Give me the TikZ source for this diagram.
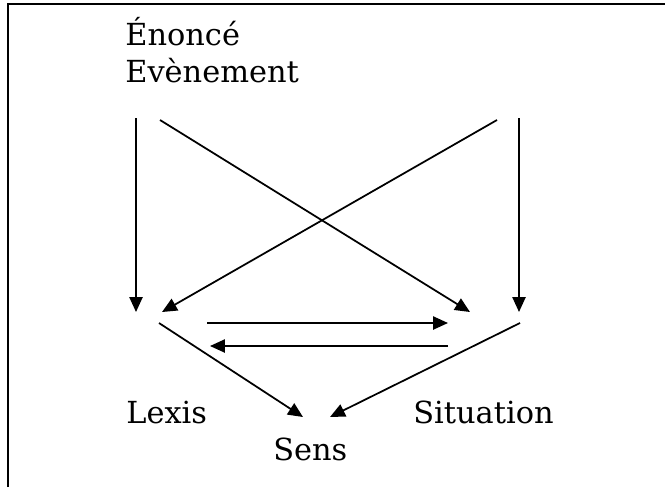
\documentclass[tikz,border=0pt]{standalone}
\usepackage{fontspec}
\setmainfont{DejaVu Serif}
\usetikzlibrary{arrows.meta}

\tikzset{
  lbl/.style={anchor=base west, inner sep=0pt, font=\fontsize{17.3}{20}\selectfont},
  arr/.style={-{Triangle[length=8.5pt, width=7.5pt]}, line width=1pt}
}

\begin{document}
\begin{tikzpicture}[x=0.02cm, y=-0.02cm]
  \useasboundingbox (0,0) rectangle (665,487);

  % Frame (only left and top edges show)
  \draw[line width=1.1pt] (8,487) -- (8,4) -- (665,4);

  % Labels
  \node[lbl] (enonce) at (125,45) {Énoncé};
  \node[lbl] (evenement) at (125,82) {Evènement};
  \node[lbl] (lexis) at (126,423) {Lexis};
  \node[lbl] (situation) at (413,423) {Situation};
  \node[lbl] (sens) at (273,460) {Sens};

  % Ends of the arrows
  \coordinate (LV_top) at (136,118);
  \coordinate (LV_tip) at (136,312);
  \coordinate (RV_top) at (519,118);
  \coordinate (RV_tip) at (519,312);
  \coordinate (X1_top) at (160,120);
  \coordinate (X1_tip) at (470,312);
  \coordinate (X2_top) at (497,120);
  \coordinate (X2_tip) at (162,312);
  \coordinate (H1_from) at (207,323);
  \coordinate (H1_tip) at (448,323);
  \coordinate (H2_from) at (448,346);
  \coordinate (H2_tip) at (210,346);
  \coordinate (D1_from) at (159,323);
  \coordinate (D1_tip) at (303,417);
  \coordinate (D2_from) at (520,323);
  \coordinate (D2_tip) at (330,417);

  % Top arrows
  \draw[arr] (LV_top) -- (LV_tip);
  \draw[arr] (RV_top) -- (RV_tip);
  \draw[arr] (X1_top) -- (X1_tip);
  \draw[arr] (X2_top) -- (X2_tip);

  % Between Lexis and Situation
  \draw[arr] (H1_from) -- (H1_tip);
  \draw[arr] (H2_from) -- (H2_tip);

  % Down to Sens
  \draw[arr] (D1_from) -- (D1_tip);
  \draw[arr] (D2_from) -- (D2_tip);
\end{tikzpicture}
\end{document}
